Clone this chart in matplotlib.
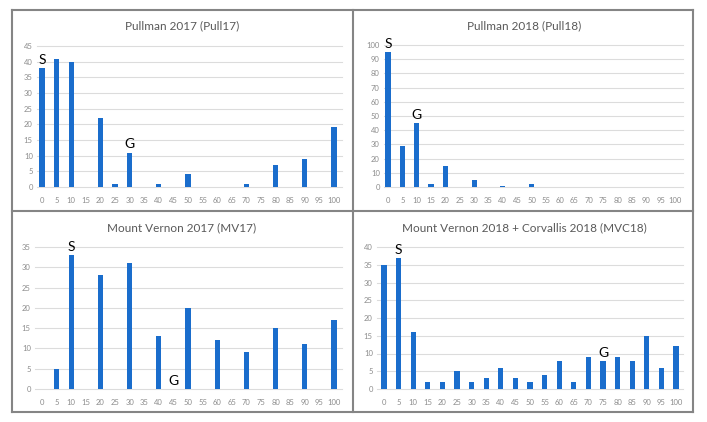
import matplotlib
matplotlib.use("Agg")
import matplotlib.pyplot as plt
from matplotlib.lines import Line2D

plt.rcParams['font.family'] = ['Lato', 'DejaVu Sans']

categories = [0, 5, 10, 15, 20, 25, 30, 35, 40, 45, 50, 55, 60, 65, 70, 75, 80, 85, 90, 95, 100]
tick_labels = [str(c) for c in categories]

pull17 = [38, 41, 40, 0, 22, 1, 11, 0, 1, 0, 4, 0, 0, 0, 1, 0, 7, 0, 9, 0, 19]
pull18 = [95, 29, 45, 2, 15, 0, 5, 0, 1, 0, 2, 0, 0, 0, 0, 0, 0, 0, 0, 0, 0]
mv17 = [0, 5, 33, 0, 28, 0, 31, 0, 13, 0, 20, 0, 12, 0, 9, 0, 15, 0, 11, 0, 17]
mvc18 = [35, 37, 16, 2, 2, 5, 2, 3, 6, 3, 2, 4, 8, 2, 9, 8, 9, 8, 15, 6, 12]

titles = ["Pullman 2017 (Pull17)", "Pullman 2018 (Pull18)",
          "Mount Vernon 2017 (MV17)", "Mount Vernon 2018 + Corvallis 2018 (MVC18)"]
# S / G marker categories per panel
s_cat = [0, 0, 10, 5]
g_cat = [30, 10, 45, 75]

W, H = 707, 422
fig = plt.figure(figsize=(W / 100, H / 100), dpi=100)

BLUE = '#1a6dcc'
TICK = '#8c8c8c'
GRID = '#dcdcdc'

# panel layout in pixels: (left, right, y0_px, ytop_px, ymax, ystep, xlo, xhi, title_x, title_y)
panels = [
    (37, 342, 187, 46, 45, 5, -0.34, 20.55, 182, 26),
    (384, 683, 187, 45, 100, 10, -0.28, 20.56, 524, 26),
    (35, 342, 389, 247, 35, 5, -0.48, 20.55, 182, 228),
    (377, 683, 389, 247, 40, 5, -0.48, 20.48, 524, 228),
]
data = [pull17, pull18, mv17, mvc18]

for k, (l, r, y0, yt, ymax, ystep, xlo, xhi, tx, ty) in enumerate(panels):
    ax = fig.add_axes([l / W, 1 - y0 / H, (r - l) / W, (y0 - yt) / H])
    xs = list(range(len(categories)))
    ax.bar(xs, data[k], width=0.36, color=BLUE, zorder=3)
    ax.set_xlim(xlo, xhi)
    ax.set_ylim(0, ymax)
    ax.set_yticks(list(range(0, ymax + 1, ystep)))
    ax.set_xticks(xs)
    ax.set_xticklabels(tick_labels)
    ax.tick_params(axis='both', length=0, labelsize=5.5, labelcolor=TICK)
    ax.tick_params(axis='x', pad=7)
    ax.tick_params(axis='y', pad=3)
    for s in ax.spines.values():
        s.set_visible(False)
    ax.grid(axis='y', color=GRID, linewidth=0.8, zorder=0)
    for gl in ax.get_ygridlines():
        gl.set_clip_on(False)
    ax.set_axisbelow(True)
    si = categories.index(s_cat[k])
    gi = categories.index(g_cat[k])
    ax.annotate('S', (si, data[k][si]), xytext=(0, 1.5), textcoords='offset points',
                ha='center', va='bottom', fontsize=10, color='black')
    ax.annotate('G', (gi, data[k][gi]), xytext=(0, 1.5), textcoords='offset points',
                ha='center', va='bottom', fontsize=10, color='black')
    fig.text(tx / W, 1 - ty / H, titles[k], ha='center', va='center',
             fontsize=8.5, color='#595959')

# panel borders
BORDER = '#858585'
def hline(x0, x1, y):
    fig.add_artist(Line2D([x0 / W, x1 / W], [1 - y / H, 1 - y / H], color=BORDER, lw=1.5))
def vline(x, y0, y1):
    fig.add_artist(Line2D([x / W, x / W], [1 - y0 / H, 1 - y1 / H], color=BORDER, lw=1.5))

hline(12, 693, 10)
hline(12, 693, 211)
hline(12, 693, 412)
vline(12, 10, 412)
vline(353, 10, 412)
vline(693, 10, 412)

fig.savefig('out.png', dpi=100, facecolor='white')
